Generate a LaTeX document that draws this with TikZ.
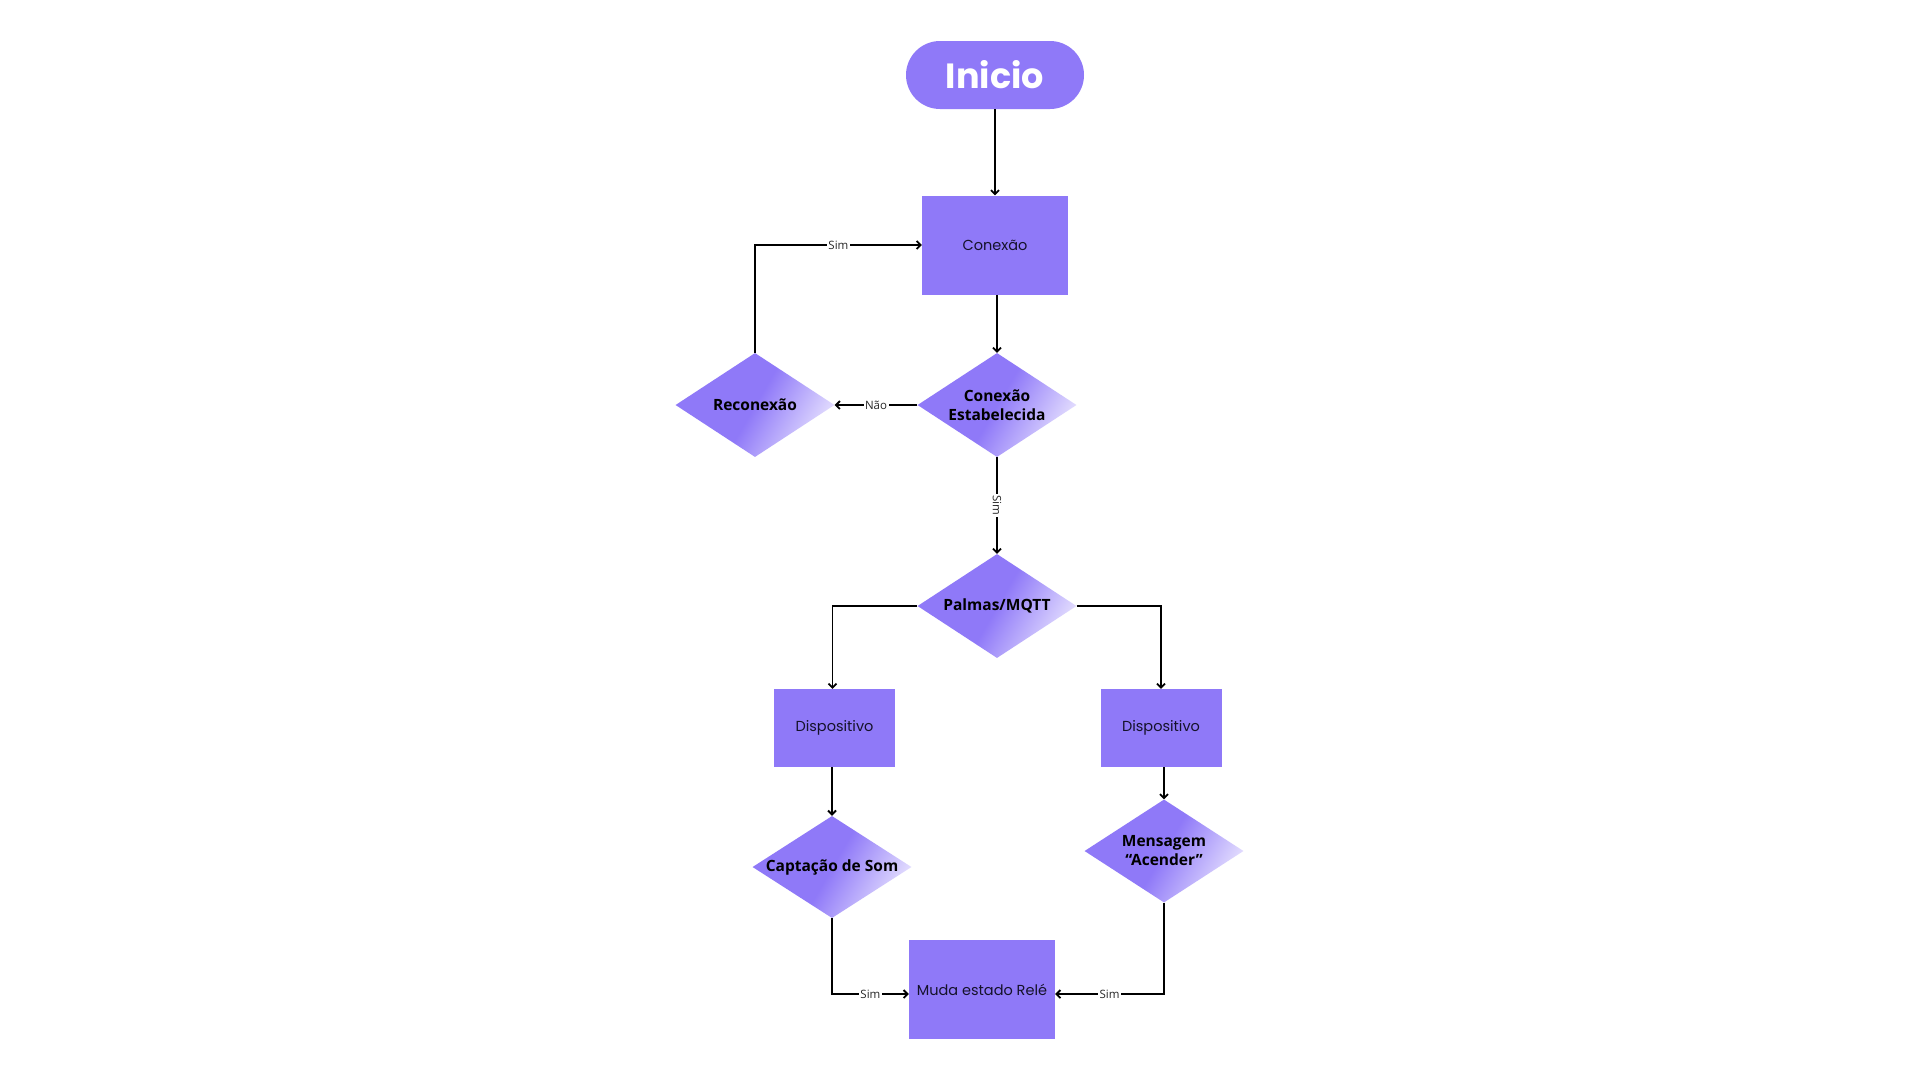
\documentclass[tikz,border=0pt]{standalone}
\usepackage{fontspec}
\setmainfont{Open Sans}
\newfontfamily\popfont{Poppins}
\usetikzlibrary{shapes.geometric,arrows.meta}
\definecolor{pur}{HTML}{8F79F8}
\definecolor{lite}{HTML}{E2DCFE}
\definecolor{ink}{HTML}{15122A}
\begin{document}
\begin{tikzpicture}[x=1pt,y=-1pt,
  startnode/.style={rectangle, rounded corners=34pt, fill=pur, minimum width=178pt, minimum height=68pt, inner sep=0pt, text=white, font=\popfont\bfseries\fontsize{35}{40}\selectfont},
  boxnode/.style={rectangle, fill=pur, minimum width=146pt, minimum height=99pt, inner sep=0pt, text=ink, font=\popfont\fontsize{14.5}{18}\selectfont},
  decnode/.style={diamond, aspect=1.53, minimum width=159pt, minimum height=104pt, inner sep=0pt, left color=pur, right color=lite, middle color=pur, shading angle=60, text=black, font=\bfseries\fontsize{15.5}{19}\selectfont, align=center},
  conn/.style={line width=1.8pt, -{Straight Barb[length=4pt,width=8pt]}},
  lbl/.style={fill=white, inner sep=1.5pt, text=black!85, font=\fontsize{11.5}{13}\selectfont}]
\useasboundingbox[fill=white] (0,0) rectangle (1920,1080);

\node[startnode] (inicio) at (995,75) {Inicio};
\node[boxnode] (conexao) at (995,245) {Conexão};
\node[decnode] (estab) at (997,405) {Conexão\\Estabelecida};
\node[decnode] (recon) at (755,405) {Reconexão};
\node[decnode] (palmas) at (997,606) {Palmas/MQTT};
\node[boxnode, minimum width=121pt, minimum height=78pt] (disp1) at (834.5,728) {Dispositivo};
\node[boxnode, minimum width=121pt, minimum height=78pt] (disp2) at (1161,728) {Dispositivo};
\node[decnode, minimum height=102pt] (capt) at (832,867) {Captação de Som};
\node[decnode, minimum height=103pt] (msg) at (1164,851) {Mensagem\\“Acender”};
\node[boxnode] (rele) at (982,989.5) {Muda estado Relé};

\draw[conn] (inicio.south) -- (conexao.north);
\draw[conn] ([xshift=2pt]conexao.south) -- (estab.north);
\draw[conn] (estab.west) -- node[lbl]{Não} (recon.east);
\draw[conn] (recon.north) |- node[lbl, pos=0.75]{Sim} (conexao.west);
\draw[conn] (estab.south) -- node[lbl, rotate=-90]{Sim} (palmas.north);
\draw[conn] (palmas.west) -| ([xshift=-2pt]disp1.north);
\draw[conn] (palmas.east) -| (disp2.north);
\draw[conn] (disp1.south -| capt.north) -- (capt.north);
\draw[conn] (disp2.south -| msg.north) -- (msg.north);
\draw[conn] (capt.south) |- node[lbl, pos=0.75]{Sim} ([yshift=-4.5pt]rele.west);
\draw[conn] (msg.south) |- node[lbl, pos=0.75]{Sim} ([yshift=-4.5pt]rele.east);
\end{tikzpicture}
\end{document}
